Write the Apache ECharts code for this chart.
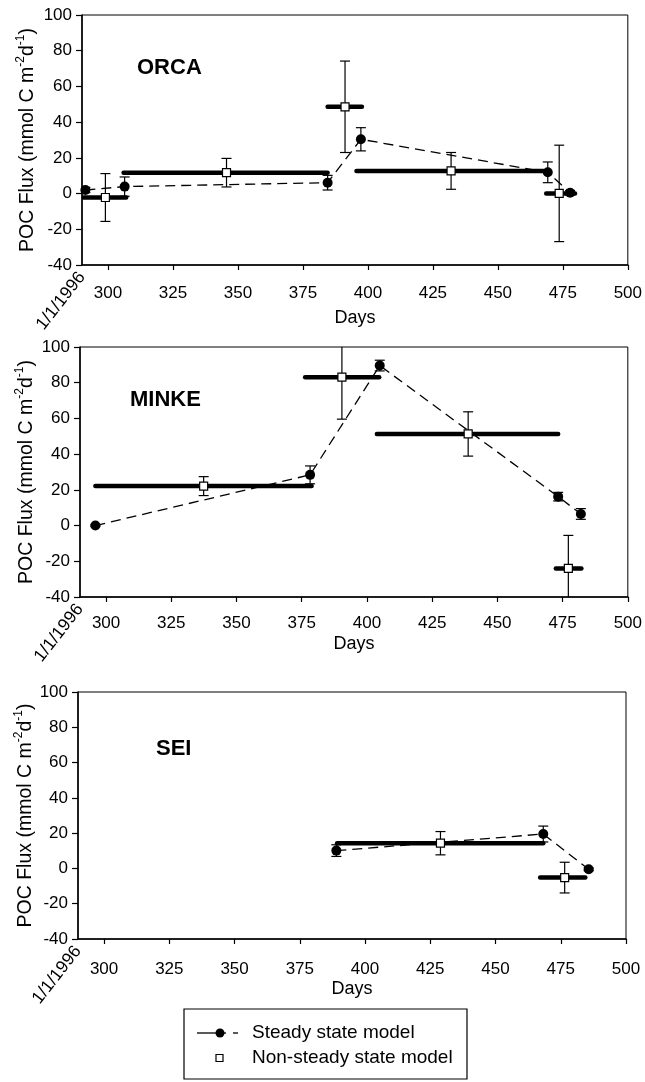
<!DOCTYPE html>
<html>
<head>
<meta charset="utf-8">
<script src="https://cdn.jsdelivr.net/npm/echarts@6/dist/echarts.min.js"></script>
<style>
  html, body { margin: 0; padding: 0; background: #fff; }
  #chart { width: 645px; height: 1082px; }
</style>
</head>
<body>
<div id="chart"></div>
<script>
// Axis ticks and labels
const dayTicks = [300, 325, 350, 375, 400, 425, 450, 475, 500];
const dayStart = 290;
const dayEnd = 500;
const startLabel = '1/1/1996';
const fluxMin = -40, fluxMax = 100, fluxStep = 20;
const panelNames = ['ORCA', 'MINKE', 'SEI'];

// ORCA — steady state model (day, flux, ± error)
const orcaSteadyDay  = [291.3, 306.4, 384.5, 397.3, 469.2, 477.8];
const orcaSteadyFlux = [2.0, 3.9, 6.1, 30.4, 11.9, 0.5];
const orcaSteadyErr  = [1.5, 5.4, 4.1, 6.5, 5.8, 1.2];
// ORCA — non-steady state model (mid day, flux, ± error, interval start/end)
const orcaNonDay   = [299.0, 345.6, 391.2, 432.0, 473.6];
const orcaNonFlux  = [-2.2, 11.7, 48.6, 12.7, 0.1];
const orcaNonErr   = [13.4, 8.0, 25.6, 10.3, 27.0];
const orcaNonStart = [290.6, 306.0, 384.5, 395.6, 468.6];
const orcaNonEnd   = [307.0, 384.5, 397.7, 467.6, 479.7];

// MINKE — steady state model
const minkeSteadyDay  = [295.9, 378.2, 404.9, 473.3, 482.0];
const minkeSteadyFlux = [0.0, 28.4, 89.6, 16.2, 6.5];
const minkeSteadyErr  = [0.5, 5.0, 3.0, 2.4, 3.0];
// MINKE — non-steady state model
const minkeNonDay   = [337.4, 390.4, 438.8, 477.2];
const minkeNonFlux  = [22.1, 83.1, 51.3, -24.0];
const minkeNonErr   = [5.3, 23.5, 12.4, 18.5];
const minkeNonStart = [295.9, 376.3, 403.8, 472.4];
const minkeNonEnd   = [378.8, 404.7, 473.3, 482.2];

// SEI — steady state model
const seiSteadyDay  = [389.0, 468.3, 485.7];
const seiSteadyFlux = [10.1, 19.5, -0.5];
const seiSteadyErr  = [3.3, 4.5, 0.8];
// SEI — non-steady state model
const seiNonDay   = [428.9, 476.5];
const seiNonFlux  = [14.3, -5.2];
const seiNonErr   = [6.6, 8.7];
const seiNonStart = [389.3, 467.1];
const seiNonEnd   = [468.3, 484.4];

const panels = [
  { steady: [orcaSteadyDay, orcaSteadyFlux, orcaSteadyErr],
    non: [orcaNonDay, orcaNonFlux, orcaNonErr, orcaNonStart, orcaNonEnd] },
  { steady: [minkeSteadyDay, minkeSteadyFlux, minkeSteadyErr],
    non: [minkeNonDay, minkeNonFlux, minkeNonErr, minkeNonStart, minkeNonEnd] },
  { steady: [seiSteadyDay, seiSteadyFlux, seiSteadyErr],
    non: [seiNonDay, seiNonFlux, seiNonErr, seiNonStart, seiNonEnd] }
];

const FONT = '"Liberation Sans", Arial, Helvetica, sans-serif';
const INK = '#000';

// per-panel layout: plot box, tick-label gap, axis-title gap, panel title position
const grids = [
  { left: 82, top: 15,  width: 548, height: 250 },
  { left: 80, top: 347, width: 548, height: 250 },
  { left: 78, top: 692, width: 548, height: 247 }
];
const xLabelMargin = [20, 18, 22];
const xNameGap = [44, 38, 41];
const yNameGap = [44, 43, 42];
const titlePos = [[137, 57], [130, 389], [156, 738]];

// vertical error bar with end caps: value = [x, y, err]
function errorBar(params, api) {
  const x = api.value(0), y = api.value(1), e = api.value(2);
  const hi = api.coord([x, y + e]);
  const lo = api.coord([x, y - e]);
  const w = 5;
  const st = { stroke: INK, lineWidth: 1.2 };
  return {
    type: 'group',
    children: [
      { type: 'line', shape: { x1: hi[0], y1: hi[1], x2: lo[0], y2: lo[1] }, style: st },
      { type: 'line', shape: { x1: hi[0] - w, y1: hi[1], x2: hi[0] + w, y2: hi[1] }, style: st },
      { type: 'line', shape: { x1: lo[0] - w, y1: lo[1], x2: lo[0] + w, y2: lo[1] }, style: st }
    ]
  };
}

// thick horizontal bar over the sampling interval: value = [start, end, flux]
function spanBar(params, api) {
  const a = api.coord([api.value(0), api.value(2)]);
  const b = api.coord([api.value(1), api.value(2)]);
  return {
    type: 'line',
    shape: { x1: a[0], y1: a[1], x2: b[0], y2: b[1] },
    style: { stroke: INK, lineWidth: 4.5, lineCap: 'round' }
  };
}

const xAxes = [], yAxes = [], series = [], titles = [];

grids.forEach((g, k) => {
  xAxes.push({
    gridIndex: k, type: 'value', position: 'bottom',
    min: dayStart, max: dayEnd,
    axisLine: { show: true, onZero: false, lineStyle: { color: INK, width: 1.5 } },
    axisTick: { show: true, customValues: dayTicks, length: 5, lineStyle: { color: INK, width: 1.2 } },
    axisLabel: { customValues: dayTicks, margin: xLabelMargin[k], fontSize: 17, color: INK, fontFamily: FONT },
    splitLine: { show: false },
    name: 'Days', nameLocation: 'middle', nameGap: xNameGap[k], nameMoveOverlap: false,
    nameTextStyle: { fontSize: 18, color: INK, fontFamily: FONT }
  });
  xAxes.push({
    gridIndex: k, type: 'value', position: 'bottom',
    min: dayStart, max: dayEnd,
    axisLine: { show: false }, axisTick: { show: false },
    axisLabel: {
      customValues: [dayStart], rotate: 52, margin: 9,
      formatter: () => startLabel,
      fontSize: 17.5, color: INK, fontFamily: FONT
    },
    splitLine: { show: false }
  });
  yAxes.push({
    gridIndex: k, type: 'value',
    min: fluxMin, max: fluxMax, interval: fluxStep,
    axisLine: { show: true, onZero: false, lineStyle: { color: INK, width: 1.5 } },
    axisTick: { show: true, length: 6, lineStyle: { color: INK, width: 1.2 } },
    axisLabel: { margin: 10, fontSize: 17, color: INK, fontFamily: FONT },
    splitLine: { show: false },
    name: '{n|POC Flux (mmol C m}{s|-2}{n|d}{s|-1}{n|)}',
    nameLocation: 'middle', nameGap: yNameGap[k], nameRotate: 90, nameMoveOverlap: false,
    nameTextStyle: {
      color: INK, fontFamily: FONT, fontSize: 19.5,
      rich: {
        n: { fontSize: 19.5, lineHeight: 23, color: INK, fontFamily: FONT, verticalAlign: 'bottom' },
        s: { fontSize: 12, lineHeight: 23, color: INK, fontFamily: FONT, verticalAlign: 'top' }
      }
    }
  });

  const p = panels[k];
  const [sDay, sFlux, sErr] = p.steady;
  const [nDay, nFlux, nErr, nStart, nEnd] = p.non;
  const xi = 2 * k;

  series.push({
    name: 'Non-steady state model interval', type: 'custom',
    xAxisIndex: xi, yAxisIndex: k, clip: true, silent: true, z: 2,
    renderItem: spanBar,
    encode: { x: [0, 1], y: 2 },
    data: nStart.map((s, i) => [s, nEnd[i], nFlux[i]])
  });
  series.push({
    name: 'Steady state error', type: 'custom',
    xAxisIndex: xi, yAxisIndex: k, clip: true, silent: true, z: 3,
    renderItem: errorBar,
    encode: { x: 0, y: 1 },
    data: sDay.map((d, i) => [d, sFlux[i], sErr[i]])
  });
  series.push({
    name: 'Non-steady state error', type: 'custom',
    xAxisIndex: xi, yAxisIndex: k, clip: true, silent: true, z: 3,
    renderItem: errorBar,
    encode: { x: 0, y: 1 },
    data: nDay.map((d, i) => [d, nFlux[i], nErr[i]])
  });
  series.push({
    name: 'Steady state model', type: 'line',
    xAxisIndex: xi, yAxisIndex: k, z: 4, silent: true,
    symbol: 'circle', symbolSize: 10,
    itemStyle: { color: INK },
    lineStyle: { color: INK, width: 1.3, type: [10, 6] },
    data: sDay.map((d, i) => [d, sFlux[i]])
  });
  series.push({
    name: 'Non-steady state model', type: 'scatter',
    xAxisIndex: xi, yAxisIndex: k, z: 5, silent: true,
    symbol: 'rect', symbolSize: 8,
    itemStyle: { color: '#fff', borderColor: INK, borderWidth: 1.2, opacity: 1 },
    data: nDay.map((d, i) => [d, nFlux[i]])
  });

  titles.push({
    text: panelNames[k], left: titlePos[k][0], top: titlePos[k][1], padding: 0,
    textStyle: { fontSize: 22, fontWeight: 'bold', color: INK, fontFamily: FONT }
  });
});

const legendGraphic = [
  { type: 'rect', shape: { x: 184, y: 1009, width: 283, height: 70 },
    style: { fill: '#fff', stroke: INK, lineWidth: 1.2 } },
  { type: 'line', shape: { x1: 197, y1: 1033, x2: 226, y2: 1033 },
    style: { stroke: INK, lineWidth: 1.3 } },
  { type: 'line', shape: { x1: 233, y1: 1033, x2: 238, y2: 1033 },
    style: { stroke: INK, lineWidth: 1.3 } },
  { type: 'circle', shape: { cx: 220, cy: 1033, r: 4.5 }, style: { fill: INK } },
  { type: 'text', x: 252, y: 1033,
    style: { text: 'Steady state model', fontSize: 19, fontFamily: FONT, fill: INK, verticalAlign: 'middle' } },
  { type: 'rect', shape: { x: 216, y: 1054.5, width: 7, height: 7 },
    style: { fill: '#fff', stroke: INK, lineWidth: 1.2 } },
  { type: 'text', x: 252, y: 1058,
    style: { text: 'Non-steady state model', fontSize: 19, fontFamily: FONT, fill: INK, verticalAlign: 'middle' } }
];

const chart = echarts.init(document.getElementById('chart'), null, { renderer: 'canvas' });
chart.setOption({
  backgroundColor: '#fff',
  animation: false,
  textStyle: { fontFamily: FONT, color: INK },
  title: titles,
  grid: grids.map(g => Object.assign({ show: true, borderColor: INK, borderWidth: 1, backgroundColor: 'transparent' }, g)),
  xAxis: xAxes,
  yAxis: yAxes,
  series: series,
  graphic: legendGraphic
});
</script>
</body>
</html>
